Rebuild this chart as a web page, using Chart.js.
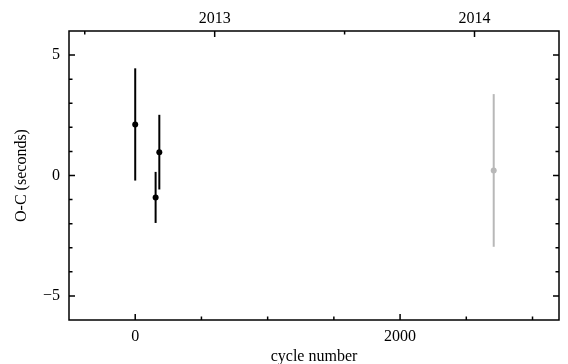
<!DOCTYPE html>
<html>
<head>
<meta charset="utf-8">
<script src="https://cdn.jsdelivr.net/npm/chart.js@4.4.0/dist/chart.umd.min.js"></script>
<style>
  html, body { margin: 0; padding: 0; background: #fff; }
  #oc { display: block; }
</style>
</head>
<body>
<canvas id="oc" width="568" height="364"></canvas>
<script>
// O-C 图数据
const cycles = [0, 154, 182];
const ocValues = [2.12, -0.91, 0.97];
const ocErrors = [2.33, 1.06, 1.55];

const grayCycles = [2707];
const grayValues = [0.21];
const grayErrors = [3.17];

// 轴范围和刻度
const cycleMin = -500;
const cycleMax = 3200;
const ocMin = -6;
const ocMax = 6;
const cycleTicks = [0, 500, 1000, 1500, 2000, 2500, 3000];
const cycleLabels = [0, 2000];
const ocTicks = [-5, -4, -3, -2, -1, 0, 1, 2, 3, 4, 5];
const ocLabels = [-5, 0, 5];
const yearTicks = [2012.5, 2013, 2013.5, 2014];
const yearLabels = [2013, 2014];

// 周期号 -> 年份 (上轴)
const cycleAt2013 = 600;
const cyclesPerYear = 1962;
function cycleToYear(c) {
    return 2013 + (c - cycleAt2013) / cyclesPerYear;
}

const serif = '"Liberation Serif", "DejaVu Serif", serif';

// 误差棒
const errorBarPlugin = {
    id: 'errorBars',
    beforeDatasetsDraw(chart) {
        const ctx = chart.ctx;
        const xs = chart.scales.x;
        const ys = chart.scales.y;
        chart.data.datasets.forEach(ds => {
            ctx.save();
            ctx.strokeStyle = ds.borderColor;
            ctx.lineWidth = 2;
            ds.data.forEach((p, i) => {
                const px = xs.getPixelForValue(p.x);
                ctx.beginPath();
                ctx.moveTo(px, ys.getPixelForValue(p.y + ds.errors[i]));
                ctx.lineTo(px, ys.getPixelForValue(p.y - ds.errors[i]));
                ctx.stroke();
            });
            ctx.restore();
        });
    }
};

// 边框和向内刻度
const frameTicksPlugin = {
    id: 'frameTicks',
    afterDraw(chart) {
        const ctx = chart.ctx;
        const a = chart.chartArea;
        ctx.save();
        ctx.strokeStyle = '#000';
        ctx.lineWidth = 1.5;
        ctx.strokeRect(a.left, a.top, a.right - a.left, a.bottom - a.top);

        function tickLen(isMajor) { return isMajor ? 6 : 3.5; }

        // 下轴
        cycleTicks.forEach(v => {
            const px = chart.scales.x.getPixelForValue(v);
            ctx.beginPath();
            ctx.moveTo(px, a.bottom);
            ctx.lineTo(px, a.bottom - tickLen(cycleLabels.includes(v)));
            ctx.stroke();
        });
        // 上轴
        yearTicks.forEach(v => {
            const px = chart.scales.x2.getPixelForValue(v);
            ctx.beginPath();
            ctx.moveTo(px, a.top);
            ctx.lineTo(px, a.top + tickLen(yearLabels.includes(v)));
            ctx.stroke();
        });
        // 左右轴
        ocTicks.forEach(v => {
            const py = chart.scales.y.getPixelForValue(v);
            const len = tickLen(ocLabels.includes(v));
            ctx.beginPath();
            ctx.moveTo(a.left, py);
            ctx.lineTo(a.left + len, py);
            ctx.moveTo(a.right, py);
            ctx.lineTo(a.right - len, py);
            ctx.stroke();
        });
        ctx.restore();
    }
};

function fixedTicks(values) {
    return s => { s.ticks = values.map(v => ({ value: v })); };
}

function initChart() {
    const ctx = document.getElementById('oc');
    new Chart(ctx, {
        type: 'scatter',
        data: {
            datasets: [{
                data: cycles.map((c, i) => ({ x: c, y: ocValues[i] })),
                errors: ocErrors,
                borderColor: '#000',
                backgroundColor: '#000',
                pointRadius: 3,
                pointBorderWidth: 0
            }, {
                data: grayCycles.map((c, i) => ({ x: c, y: grayValues[i] })),
                errors: grayErrors,
                borderColor: '#b8b8b8',
                backgroundColor: '#b8b8b8',
                pointRadius: 3,
                pointBorderWidth: 0
            }]
        },
        options: {
            responsive: false,
            animation: false,
            devicePixelRatio: 1,
            layout: { padding: { right: 9 } },
            plugins: {
                legend: { display: false },
                tooltip: { enabled: false }
            },
            scales: {
                x: {
                    type: 'linear',
                    position: 'bottom',
                    min: cycleMin,
                    max: cycleMax,
                    afterBuildTicks: fixedTicks(cycleLabels),
                    grid: { display: false, drawTicks: false },
                    border: { display: false },
                    ticks: {
                        autoSkip: false,
                        maxRotation: 0,
                        padding: 7,
                        color: '#000',
                        font: { family: serif, size: 16 },
                        callback: v => String(v)
                    },
                    title: {
                        display: true,
                        text: 'cycle number',
                        color: '#000',
                        font: { family: serif, size: 16 },
                        padding: { top: 0, bottom: -2 }
                    },
                    afterFit: s => { s.height = 44; }
                },
                x2: {
                    type: 'linear',
                    position: 'top',
                    min: cycleToYear(cycleMin),
                    max: cycleToYear(cycleMax),
                    afterBuildTicks: fixedTicks(yearLabels),
                    grid: { display: false, drawTicks: false },
                    border: { display: false },
                    ticks: {
                        autoSkip: false,
                        maxRotation: 0,
                        padding: 3,
                        color: '#000',
                        font: { family: serif, size: 16 },
                        callback: v => String(v)
                    },
                    afterFit: s => { s.height = 31; }
                },
                y: {
                    min: ocMin,
                    max: ocMax,
                    afterBuildTicks: fixedTicks(ocLabels),
                    grid: { display: false, drawTicks: false },
                    border: { display: false },
                    ticks: {
                        autoSkip: false,
                        padding: 9,
                        color: '#000',
                        font: { family: serif, size: 16 },
                        callback: v => (v < 0 ? '\u2212' + (-v) : String(v))
                    },
                    title: {
                        display: true,
                        text: 'O-C (seconds)',
                        color: '#000',
                        font: { family: serif, size: 16 },
                        padding: { top: 12, bottom: 0 }
                    },
                    afterFit: s => { s.width = 69; }
                }
            }
        },
        plugins: [errorBarPlugin, frameTicksPlugin]
    });
}

document.addEventListener('DOMContentLoaded', initChart);
</script>
</body>
</html>
